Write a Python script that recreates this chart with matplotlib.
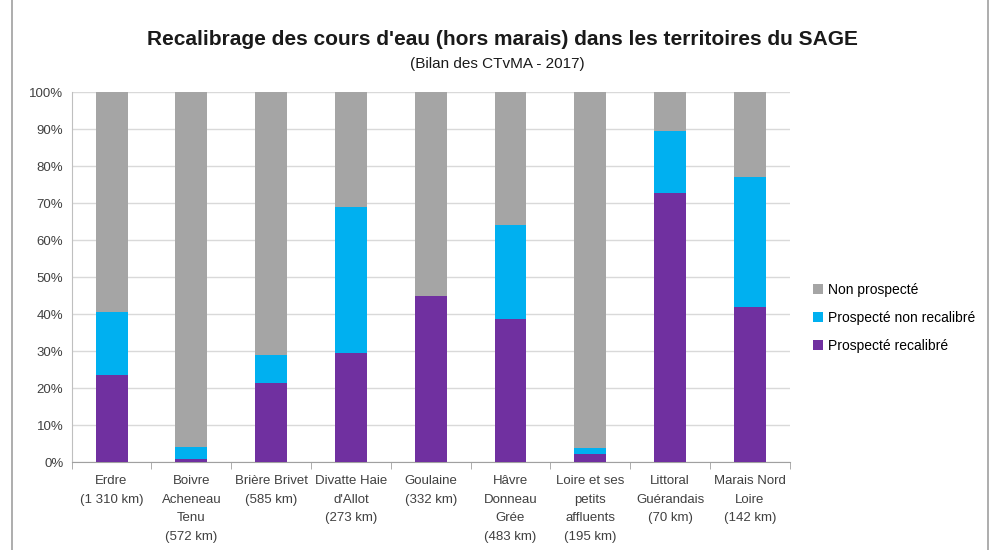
import numpy as np
import matplotlib
matplotlib.use('Agg')
import matplotlib.pyplot as plt
from matplotlib.ticker import PercentFormatter
from matplotlib.patches import Rectangle

plt.rcParams['font.family'] = ['Liberation Sans', 'DejaVu Sans']

# Données (en %)
territoires = ['Erdre\n(1 310 km)', 'Boivre\nAcheneau\nTenu\n(572 km)', 'Brière Brivet\n(585 km)',
               "Divatte Haie\nd'Allot\n(273 km)", 'Goulaine\n(332 km)', 'Hâvre\nDonneau\nGrée\n(483 km)',
               'Loire et ses\npetits\naffluents\n(195 km)', 'Littoral\nGuérandais\n(70 km)',
               'Marais Nord\nLoire\n(142 km)']
recalibre = [23.5, 1.0, 21.3, 29.5, 45.0, 38.7, 2.3, 72.7, 41.9]
non_recalibre = [17.2, 3.1, 7.7, 39.5, 0.0, 25.4, 1.6, 16.8, 35.3]
non_prospecte = [59.3, 95.9, 71.0, 31.0, 55.0, 35.9, 96.1, 10.5, 22.8]

x = np.arange(len(territoires))
fig = plt.figure(figsize=(9.91, 5.5), dpi=100)
ax = fig.add_axes([0.0723, 0.1595, 0.7247, 0.6725])

w = 0.4
b1 = ax.bar(x, recalibre, w, color='#7030A0', label='Prospecté recalibré', zorder=3)
b2 = ax.bar(x, non_recalibre, w, bottom=recalibre, color='#00B0F0',
            label='Prospecté non recalibré', zorder=3)
bas = np.array(recalibre) + np.array(non_recalibre)
b3 = ax.bar(x, non_prospecte, w, bottom=bas, color='#A5A5A5', label='Non prospecté', zorder=3)

ax.set_ylim(0, 100)
ax.set_xlim(-0.5, len(territoires) - 0.5)
ax.set_yticks(np.arange(0, 101, 10))
ax.yaxis.set_major_formatter(PercentFormatter(decimals=0))
ax.yaxis.grid(True, color='#D9D9D9', linewidth=1, zorder=0)
ax.tick_params(axis='y', length=0, labelsize=9.5, colors='#404040', pad=6)

ax.set_xticks(x)
ax.set_xticklabels(territoires, fontsize=9.5, color='#404040', linespacing=1.75)
ax.set_xticks(np.arange(-0.5, len(territoires), 1), minor=True)
ax.tick_params(axis='x', which='major', length=0, pad=9)
ax.tick_params(axis='x', which='minor', length=5, color='#A0A0A0')

for s in ['top', 'right']:
    ax.spines[s].set_visible(False)
ax.spines['left'].set_color('#BFBFBF')
ax.spines['bottom'].set_color('#A0A0A0')

ax.legend(handles=[b3, b2, b1], loc='center left', bbox_to_anchor=(1.015, 0.39),
          frameon=False, fontsize=10, handlelength=0.7, handleheight=0.7,
          handletextpad=0.4, labelspacing=1.0)

fig.text(0.507, 0.918, "Recalibrage des cours d'eau (hors marais) dans les territoires du SAGE",
         ha='center', fontsize=15, fontweight='bold', color='#1a1a1a')
fig.text(0.502, 0.876, '(Bilan des CTvMA - 2017)', ha='center', fontsize=11, color='#1a1a1a')

fig.patches.append(Rectangle((0.012, -0.01), 0.985, 1.02, transform=fig.transFigure,
                             fill=False, edgecolor='#A0A0A0', linewidth=1.2))

fig.savefig('out.png', dpi=100)
